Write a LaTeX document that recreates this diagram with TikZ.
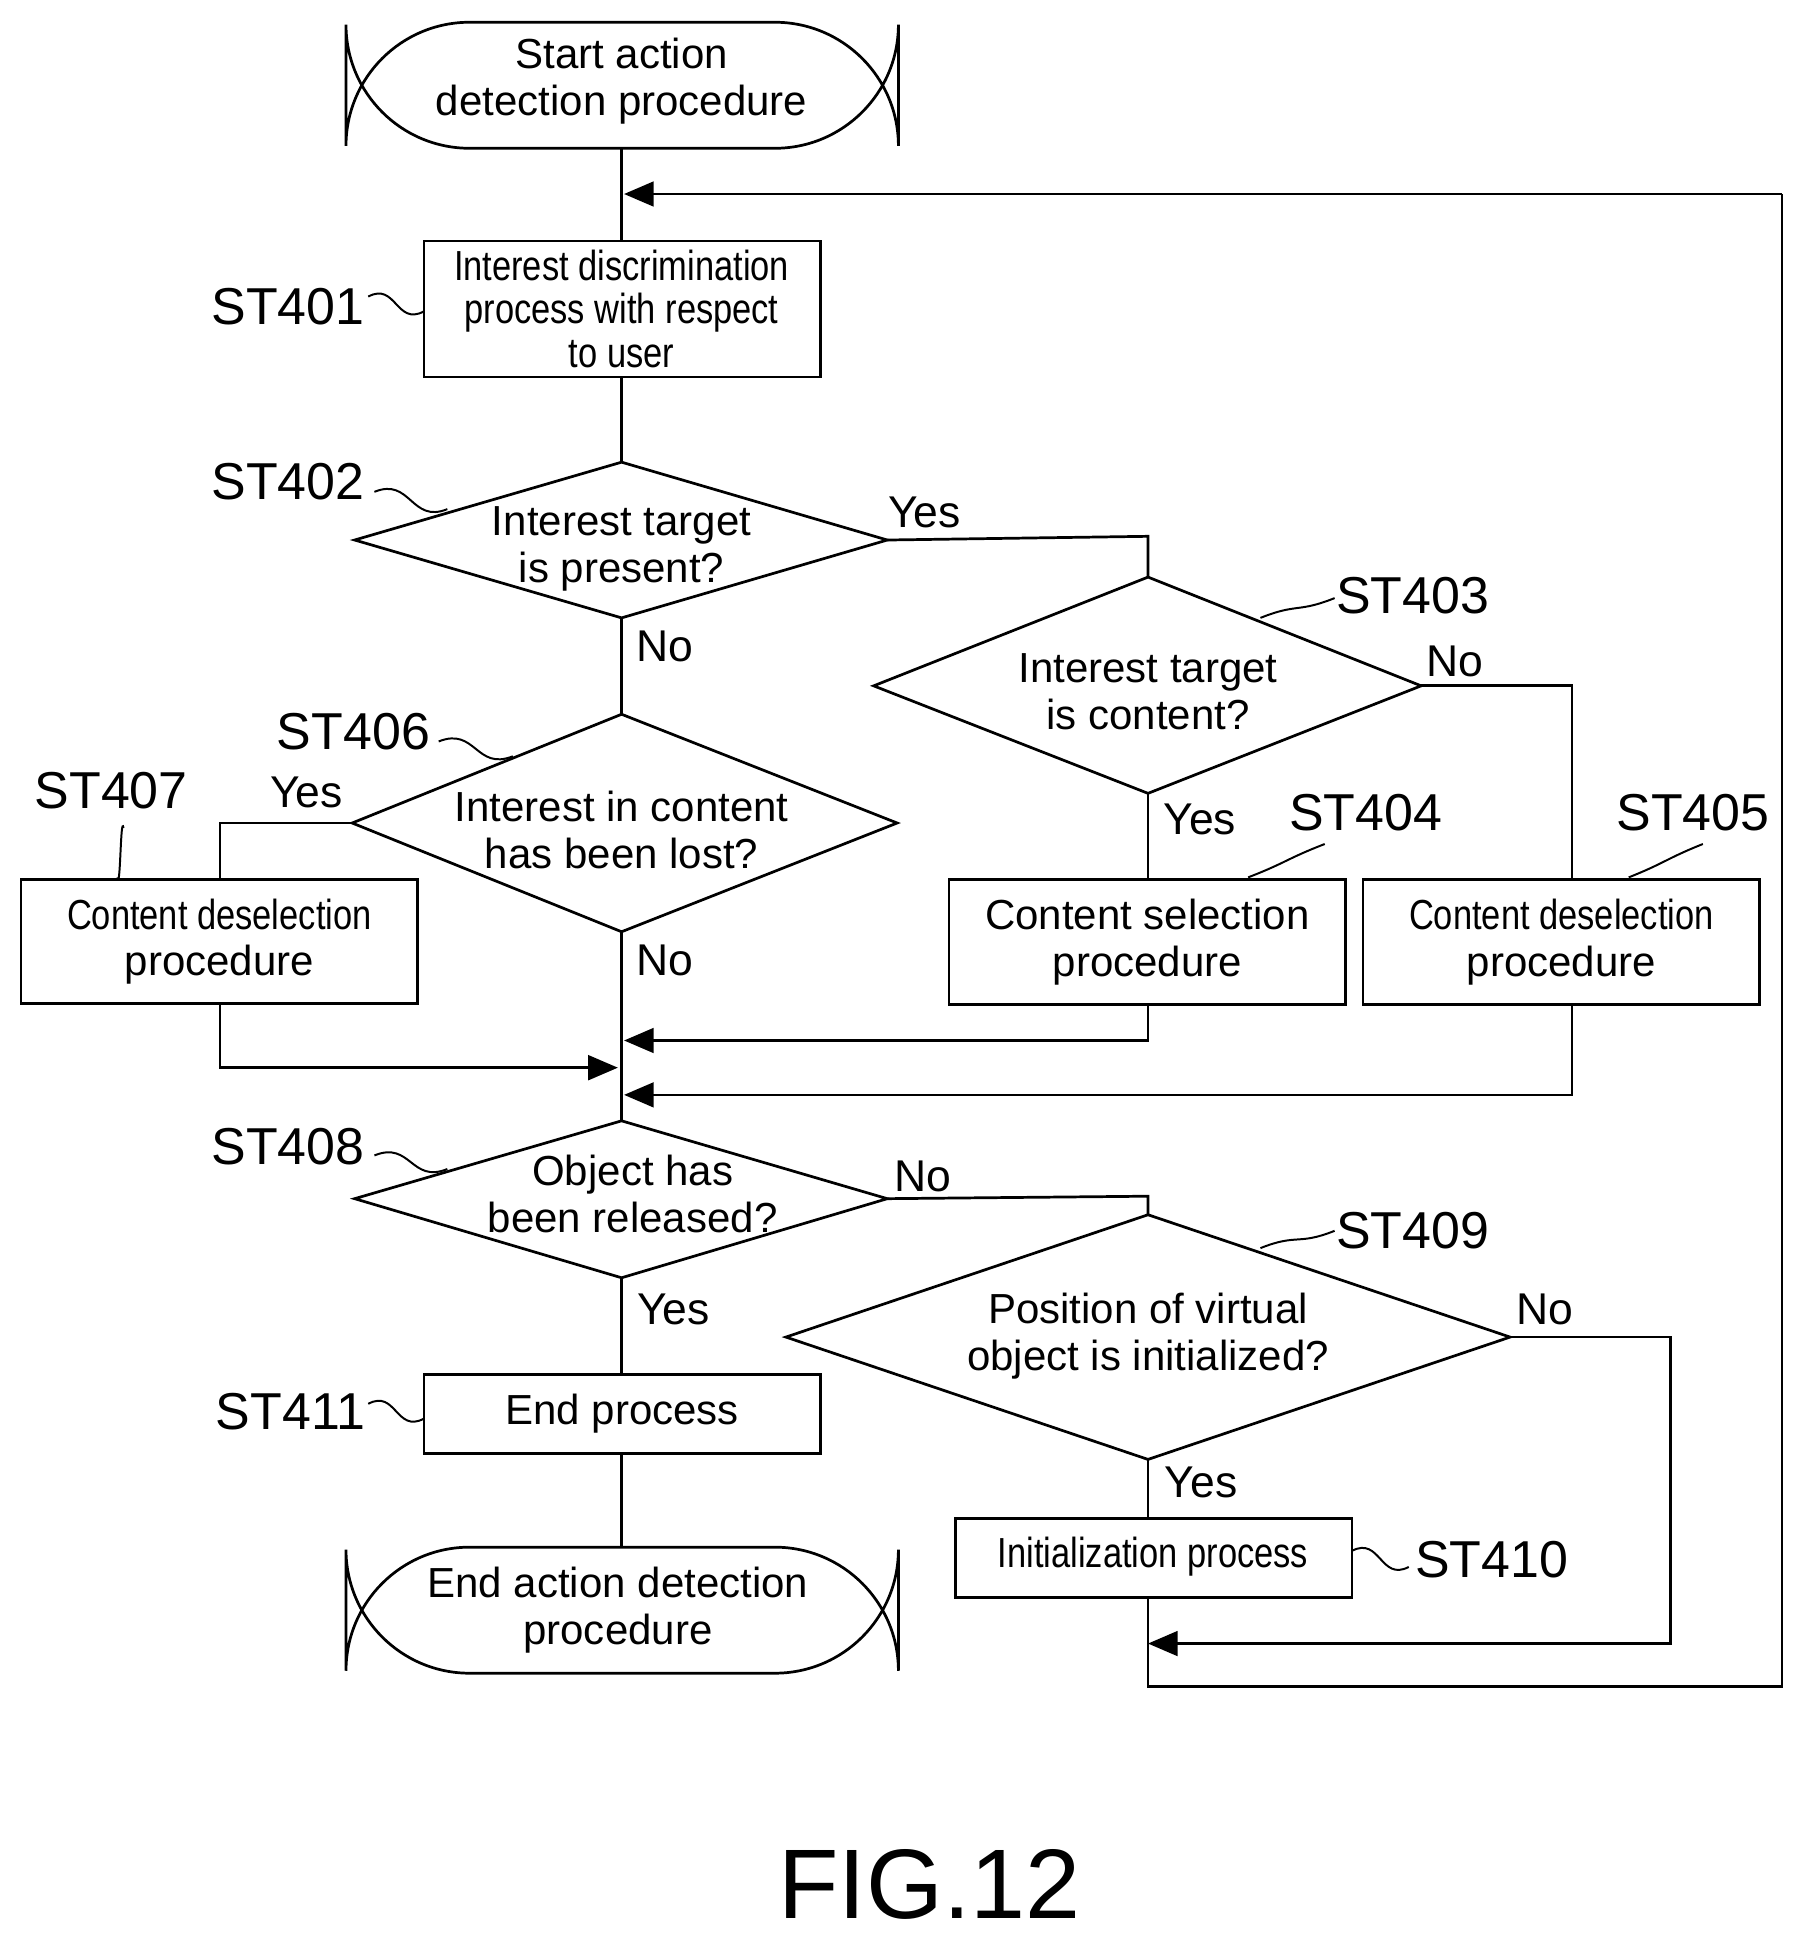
\documentclass[tikz,border=0pt]{standalone}
\usepackage{fontspec}
\setmainfont{Liberation Sans}
\newfontfamily\narrow[FakeStretch=0.82]{Liberation Sans}
\usetikzlibrary{shapes.geometric,arrows.meta}
\begin{document}
\begin{tikzpicture}[x=0.5pt,y=-0.5pt,line width=1.1pt,
  txt/.style={font=\fontsize{17}{19}\selectfont,align=center},
  lab/.style={font=\fontsize{21}{23}\selectfont},
  yn/.style={font=\fontsize{18}{20}\selectfont},
  arr/.style={-{Triangle[length=12pt,width=10pt]}}]
\useasboundingbox (0,0) rectangle (1470,1578);
\newcommand\myrect[6]{\draw (#2,#3) rectangle (#4,#5); \node[txt,inner sep=0] (#1) at ({(#2+#4)/2},{(#3+#5)/2}) {#6};}
\newcommand\mydia[5]{\draw (#2,#3) -- (#4,#5-#3) -- (2*#4-#2,#3) -- (#4,2*#3-#5+#3-#3) -- cycle;}
\newcommand\sq[4]{\draw[line width=0.8pt] (#1,#2) .. controls ({#1+0.5*(#3-#1)},{#2-12}) and ({#3-0.5*(#3-#1)},{#4+12}) .. (#3,#4);}
% terminals
\draw[rounded corners=50pt] (280,18) rectangle (727,120);
\node[txt] (start) at (503,66) {Start action\\detection procedure};
\draw[rounded corners=50pt] (280,1252) rectangle (727,1354);
\node[txt] (end) at (500,1303) {End action detection\\procedure};
% boxes
\draw (343,195) rectangle (664,305);
\node[txt,font=\narrow\fontsize{17}{17.5}\selectfont] (s401) at (503,250) {Interest discrimination\\process with respect\\to user};
\myrect{s404}{768}{712}{1089}{813}{Content selection\\procedure}
\myrect{s405}{1103}{712}{1424}{813}{\narrow Content deselection\\procedure}
\myrect{s407}{17}{712}{338}{812}{\narrow Content deselection\\procedure}
\myrect{s411}{343}{1112}{664}{1176}{End process}
\draw (773,1229) rectangle (1094,1293);
\node[txt,font=\narrow\fontsize{17}{19}\selectfont] (s410) at (933,1260) {Initialization process};
% diamonds
\draw (287,437) -- (503,374) -- (718,437) -- (503,500) -- cycle;
\node[txt] (d402) at (503,444) {Interest target\\is present?};
\draw (707,555) -- (929,467) -- (1150,555) -- (929,642) -- cycle;
\node[txt] (d403) at (929,560) {Interest target\\is content?};
\draw (285,666) -- (503,578) -- (726,666) -- (503,754) -- cycle;
\node[txt] (d406) at (503,672) {Interest in content\\has been lost?};
\draw (287,970) -- (503,907) -- (718,970) -- (503,1034) -- cycle;
\node[txt] (d408) at (512,966) {Object has\\been released?};
\draw (636,1082) -- (929,983) -- (1222,1082) -- (929,1181) -- cycle;
\node[txt] (d409) at (929,1081) {Position of virtual\\object is initialized?};
% connectors
\draw (503,120) -- (503,195);
\draw[arr] (1442,157) -- (505,157);
\draw (503,305) -- (503,374);
\draw (718,437) -- (929,434) -- (929,467);
\draw (1150,555) -- (1272,555) -- (1272,712);
\draw (929,642) -- (929,712);
\draw (503,500) -- (503,578);
\draw (285,666) -- (178,666) -- (178,712);
\draw[arr] (178,812) -- (178,864) -- (500,864);
\draw[arr] (929,813) -- (929,842) -- (505,842);
\draw[arr] (1272,813) -- (1272,886) -- (505,886);
\draw (503,754) -- (503,907);
\draw (718,970) -- (929,968) -- (929,983);
\draw (929,1181) -- (929,1229);
\draw[arr] (1222,1082) -- (1352,1082) -- (1352,1330) -- (929,1330);
\draw (929,1293) -- (929,1365) -- (1442,1365) -- (1442,157);
\draw (503,1034) -- (503,1112);
\draw (503,1176) -- (503,1252);
% yes/no
\node[yn] at (748,415) {Yes};
\node[yn] at (1177,535) {No};
\node[yn] at (971,663) {Yes};
\node[yn] at (248,641) {Yes};
\node[yn] at (538,523) {No};
\node[yn] at (538,777) {No};
\node[yn] at (747,952) {No};
\node[yn] at (545,1060) {Yes};
\node[yn] at (1250,1060) {No};
\node[yn] at (972,1200) {Yes};
% step labels
\node[lab] (l401) at (233,248) {ST401}; \sq{298}{240}{343}{252}
\node[lab] (l402) at (233,390) {ST402}; \sq{303}{398}{362}{412}
\node[lab] (l403) at (1143,482) {ST403}; \sq{1020}{500}{1080}{484}
\node[lab] (l404) at (1105,658) {ST404}; \sq{1010}{710}{1072}{683}
\node[lab] (l405) at (1370,658) {ST405}; \sq{1318}{710}{1378}{683}
\node[lab] (l406) at (286,592) {ST406}; \sq{355}{600}{415}{612}
\node[lab] (l407) at (90,640) {ST407}; \sq{100}{670}{95}{710}
\node[lab] (l408) at (233,928) {ST408}; \sq{303}{935}{362}{946}
\node[lab] (l409) at (1143,996) {ST409}; \sq{1020}{1010}{1080}{996}
\node[lab] (l410) at (1207,1262) {ST410}; \sq{1094}{1255}{1140}{1268}
\node[lab] (l411) at (235,1142) {ST411}; \sq{298}{1136}{343}{1148}
\node[font=\fontsize{40}{44}\selectfont] (fig) at (752,1525) {FIG.12};
\end{tikzpicture}
\end{document}
